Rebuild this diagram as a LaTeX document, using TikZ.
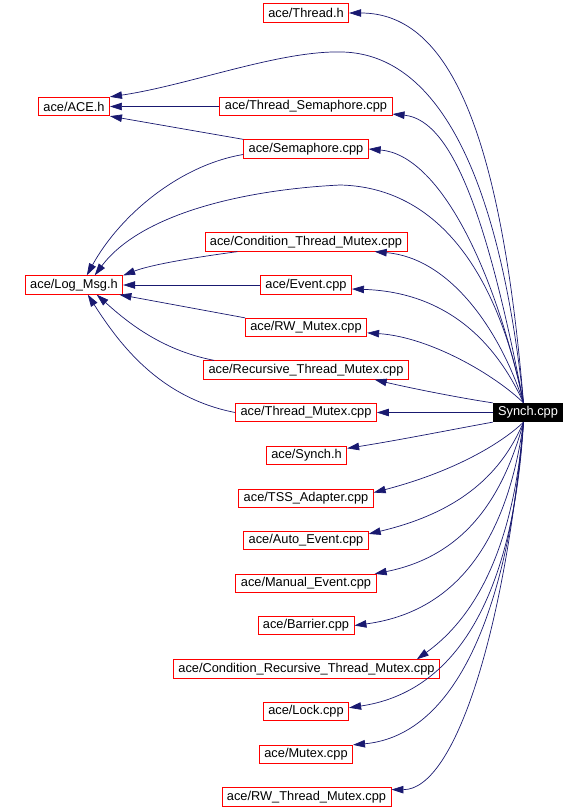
\documentclass[tikz,border=0pt]{standalone}
\usepackage{fontspec}
\setmainfont{Liberation Sans}
\usepackage{tikz}
\usetikzlibrary{arrows.meta}
\definecolor{edgeblue}{RGB}{25,25,112}
\tikzset{
  incl-file/.style={draw=red, fill=white, line width=0.8pt, inner xsep=5pt, inner ysep=0pt,
    minimum height=18.5pt, font=\fontsize{12.8}{15}\selectfont},
  incl-root/.style={incl-file, draw=black, fill=black, text=white},
  incl-edge/.style={draw=edgeblue, line width=0.7pt, ->}
}

\begin{document}
\begin{tikzpicture}[>={Triangle[length=12pt,width=7.5pt]}, x=1pt, y=-1pt]
  \useasboundingbox (0,0) rectangle (588,809);

  % Left column: headers pulled in twice
  \node[incl-file] (ace) at (74,106.5) {ace/ACE.h};
  \node[incl-file] (logmsg) at (74,285) {ace/Log\_Msg.h};

  % Middle column
  \node[incl-file] (thread) at (306,13) {ace/Thread.h};
  \node[incl-file] (threadsem) at (306,106.5) {ace/Thread\_Semaphore.cpp};
  \node[incl-file] (sema) at (306,149) {ace/Semaphore.cpp};
  \node[incl-file] (condmutex) at (306,242) {ace/Condition\_Thread\_Mutex.cpp};
  \node[incl-file] (event) at (306,285) {ace/Event.cpp};
  \node[incl-file] (rwmutex) at (306,327.5) {ace/RW\_Mutex.cpp};
  \node[incl-file] (recmutex) at (306,370) {ace/Recursive\_Thread\_Mutex.cpp};
  \node[incl-file] (thrmutex) at (306,412.5) {ace/Thread\_Mutex.cpp};
  \node[incl-file] (synchh) at (306.5,455.5) {ace/Synch.h};
  \node[incl-file] (tss) at (306,498.5) {ace/TSS\_Adapter.cpp};
  \node[incl-file] (autoev) at (306,540.5) {ace/Auto\_Event.cpp};
  \node[incl-file] (manualev) at (306,583.5) {ace/Manual\_Event.cpp};
  \node[incl-file] (barrier) at (306,625.5) {ace/Barrier.cpp};
  \node[incl-file] (condrec) at (306.5,669) {ace/Condition\_Recursive\_Thread\_Mutex.cpp};
  \node[incl-file] (lock) at (306,711.5) {ace/Lock.cpp};
  \node[incl-file] (mutex) at (306,754.5) {ace/Mutex.cpp};
  \node[incl-file] (rwthr) at (306.5,797) {ace/RW\_Thread\_Mutex.cpp};

  % Root file
  \node[incl-root] (synch) at (528,412.5) {Synch.cpp};

  % Edges out of the root, upper half
  \draw[incl-edge] (synch.115) .. controls (500,120) and (445,13) .. (thread.east);
  \draw[incl-edge] (synch.115) .. controls (500,180) and (440,55) .. (343,52)
    .. controls (280,50) and (190,85) .. (ace.north east);
  \draw[incl-edge] (synch.115) .. controls (490,230) and (455,120) .. (threadsem.-5);
  \draw[incl-edge] (synch.115) .. controls (495,270) and (440,155) .. (sema.east);
  \draw[incl-edge] (synch.115) .. controls (495,260) and (430,187) .. (340,185)
    .. controls (240,190) and (140,215) .. (logmsg.25);
  \draw[incl-edge] (synch.115) .. controls (500,330) and (450,258) .. (condmutex.-8);
  \draw[incl-edge] (synch.115) .. controls (495,340) and (445,292) .. (event.-5);
  \draw[incl-edge] (synch.115) .. controls (495,375) and (430,337) .. (rwmutex.-5);
  \draw[incl-edge] (synch.north west) .. controls (460,398) and (410,388) .. (recmutex.-8);
  \draw[incl-edge] (synch.west) -- (thrmutex.east);

  % Edges out of the root, lower half
  \draw[incl-edge] (synch.south west) .. controls (460,428) and (400,440) .. (synchh.10);
  \draw[incl-edge] (synch.245) .. controls (505,440) and (460,470) .. (tss.5);
  \draw[incl-edge] (synch.245) .. controls (505,465) and (470,510) .. (autoev.6);
  \draw[incl-edge] (synch.245) .. controls (505,490) and (470,555) .. (manualev.8);
  \draw[incl-edge] (synch.245) .. controls (510,520) and (470,610) .. (barrier.east);
  \draw[incl-edge] (synch.245) .. controls (515,530) and (485,610) .. (condrec.5);
  \draw[incl-edge] (synch.245) .. controls (515,570) and (470,690) .. (lock.5);
  \draw[incl-edge] (synch.245) .. controls (510,600) and (460,735) .. (mutex.north east);
  \draw[incl-edge] (synch.245) .. controls (505,630) and (455,790) .. (rwthr.5);

  % Middle column into the two headers
  \draw[incl-edge] (threadsem.west) -- (ace.east);
  \draw[incl-edge] (sema.north west) -- (ace.south east);
  \draw[incl-edge] (sema.185) .. controls (180,165) and (120,215) .. (logmsg.37);
  \draw[incl-edge] (condmutex.188) .. controls (190,258) and (150,265) .. (logmsg.11);
  \draw[incl-edge] (event.west) -- (logmsg.east);
  \draw[incl-edge] (rwmutex.171) -- (logmsg.-12);
  \draw[incl-edge] (recmutex.174.5) .. controls (160,350) and (125,320) .. (logmsg.-23);
  \draw[incl-edge] (thrmutex.west) .. controls (160,398) and (120,345) .. (logmsg.-35);
\end{tikzpicture}
\end{document}
